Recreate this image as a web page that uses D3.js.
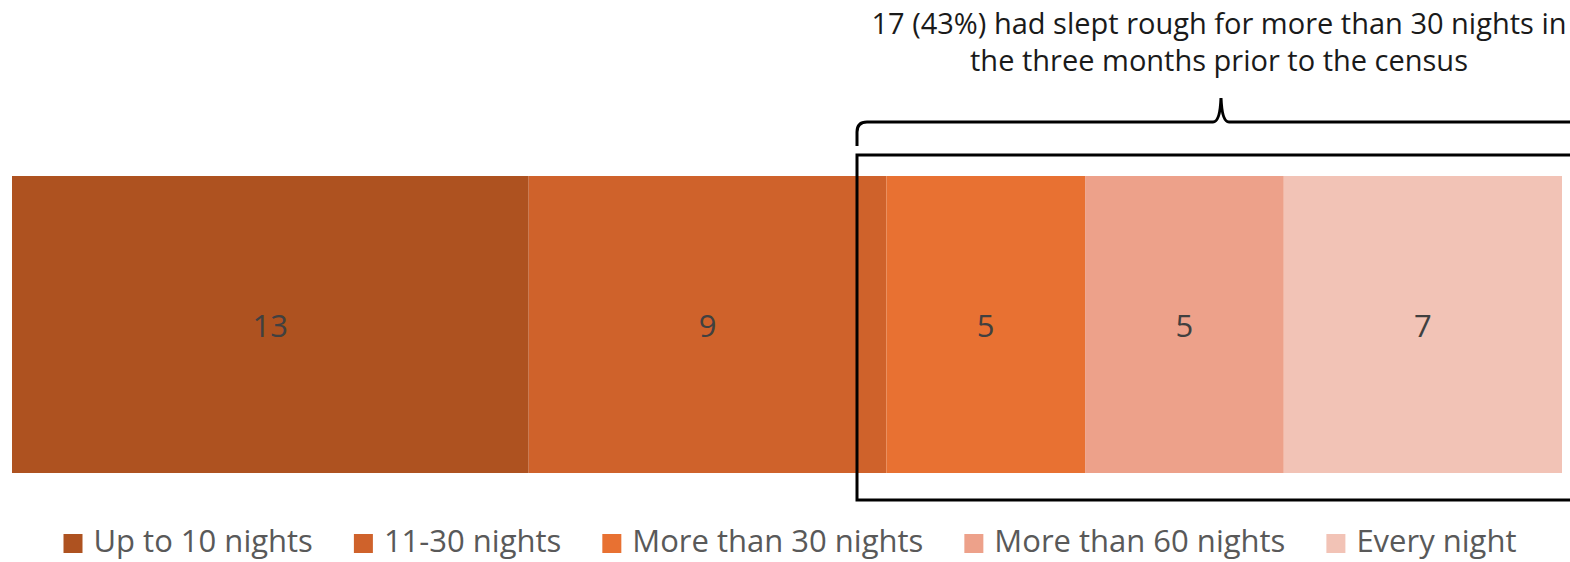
<!DOCTYPE html>
<html>
<head>
<meta charset="utf-8">
<script src="https://cdn.jsdelivr.net/npm/d3@7"></script>
<style>
  html, body { margin: 0; padding: 0; background: #fff; }
  svg { display: block; }
</style>
</head>
<body>
<div id="chart"></div>
<script>
// data
var categories = ["Up to 10 nights", "11-30 nights", "More than 30 nights", "More than 60 nights", "Every night"];
var values = [13, 9, 5, 5, 7];
var colours = ["#AE5220", "#CF622B", "#E87132", "#EDA18A", "#F2C3B6"];
var note = ["17 (43%) had slept rough for more than 30 nights in", "the three months prior to the census"];

var width = 1570,
    height = 562;

var svg = d3.select("#chart")
    .append("svg")
    .attr("width", width)
    .attr("height", height)
    .style("font-family", "'Open Sans', Roboto, sans-serif");

var total = d3.sum(values);
var x = d3.scaleLinear().domain([0, total]).range([12, 1562]);

// stack the single bar
var rows = [];
var acc = 0;
values.forEach(function(v, i) {
  rows.push({ name: categories[i], value: v, x0: acc, x1: acc + v, colour: colours[i] });
  acc += v;
});

var barTop = 176, barH = 297;

var bars = svg.append("g").attr("class", "bars");

bars.selectAll("rect")
    .data(rows)
    .enter()
    .append("rect")
    .attr("x", function(d) { return x(d.x0); })
    .attr("y", barTop)
    .attr("width", function(d) { return x(d.x1) - x(d.x0); })
    .attr("height", barH)
    .style("fill", function(d) { return d.colour; });

bars.selectAll("text")
    .data(rows)
    .enter()
    .append("text")
    .attr("x", function(d) { return (x(d.x0) + x(d.x1)) / 2; })
    .attr("y", barTop + barH / 2 + 12)
    .attr("text-anchor", "middle")
    .style("font-size", "31px")
    .style("fill", "#404040")
    .text(function(d) { return d.value; });

// box round the long-term sleepers
svg.append("rect")
    .attr("x", 857)
    .attr("y", 155)
    .attr("width", 800)
    .attr("height", 345)
    .style("fill", "none")
    .style("stroke", "#000")
    .style("stroke-width", 3);

// brace
var tip = 1221;
var brace = "M857,146 L857,132 Q857,122 867,122 L" + (tip - 8) + ",122 Q" + (tip - 1) + ",122 " + tip + ",98"
          + " Q" + (tip + 1) + ",122 " + (tip + 8) + ",122 L1600,122";
svg.append("path")
    .attr("d", brace)
    .style("fill", "none")
    .style("stroke", "#000")
    .style("stroke-width", 3);

svg.append("g").selectAll("text")
    .data(note)
    .enter()
    .append("text")
    .attr("x", 1219)
    .attr("y", function(d, i) { return 34 + i * 37; })
    .attr("text-anchor", "middle")
    .style("font-size", "29px")
    .style("fill", "#1a1a1a")
    .text(function(d) { return d; });

// legend
var legend = svg.append("g").attr("class", "legend");
var items = legend.selectAll("g")
    .data(rows)
    .enter()
    .append("g");

items.append("rect")
    .attr("width", 19)
    .attr("height", 19)
    .attr("y", 534)
    .style("fill", function(d) { return d.colour; });

items.append("text")
    .attr("y", 552)
    .style("font-size", "31px")
    .style("fill", "#595959")
    .text(function(d) { return d.name; });

var gap = 41;
var lx = 0;
var offsets = [];
items.each(function(d) {
  var w = d3.select(this).select("text").node().getComputedTextLength();
  offsets.push(lx);
  lx += 19 + 11 + w + gap;
});
var legendW = lx - gap;
var start = 790 - legendW / 2;
items.each(function(d, i) {
  var g = d3.select(this);
  g.select("rect").attr("x", start + offsets[i]);
  g.select("text").attr("x", start + offsets[i] + 30);
});
</script>
</body>
</html>
